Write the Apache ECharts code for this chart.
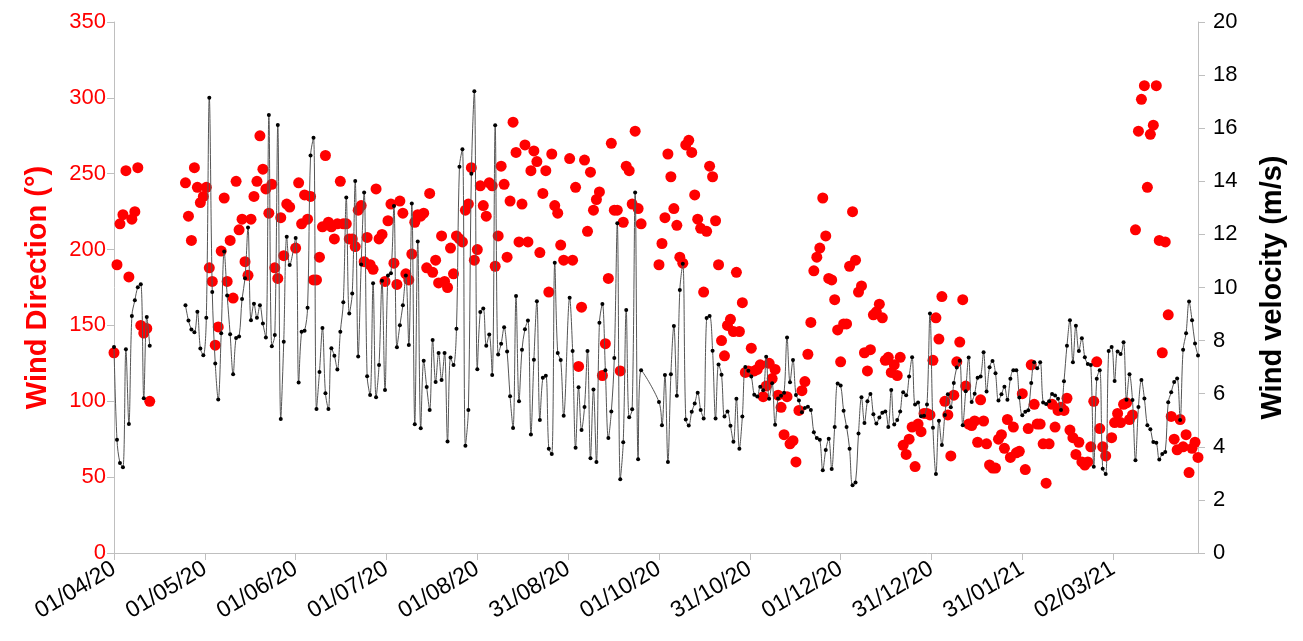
<!DOCTYPE html>
<html><head><meta charset="utf-8">
<script src="https://cdn.jsdelivr.net/npm/echarts@6/dist/echarts.min.js"></script>
<style>html,body{margin:0;padding:0;background:#fff}#chart{width:1303px;height:641px}</style>
</head><body><div id="chart"></div>
<script>
// X tick labels (dates), one every 30.5 days from 01/04/20
const xTickLabels = ['01/04/20','01/05/20','01/06/20','01/07/20','01/08/20','31/08/20',
  '01/10/20','31/10/20','01/12/20','31/12/20','31/01/21','02/03/21'];
const tickStepDays = 30.5;

// Days (counted from 01/04/20) that have observations, as inclusive ranges
const observedRanges = [[0,12],[24,59],[61,151],[153,177],[183,364]];

// Wind direction (deg), one value per observed day
const windDirection = [
  // 0-12
  132,190,217,223,252,182,220,225,254,150,145,148,100,
  // 24-59
  244,222,206,254,241,231,235,241,188,179,
  137,149,199,234,179,206,168,245,213,220,
  192,183,220,235,245,275,253,240,224,243,
  188,181,221,196,230,228,
  // 61-151
  201,244,217,236,220,235,180,180,195,215,
  262,218,215,207,217,245,217,217,207,207,
  202,226,229,192,208,190,187,240,207,210,
  179,219,230,191,177,232,224,184,180,197,
  218,223,222,224,188,237,185,193,178,209,
  179,175,201,184,209,207,205,226,230,254,
  193,200,242,229,222,244,242,189,209,255,
  243,195,232,284,264,205,230,269,205,252,
  265,258,198,237,252,172,263,229,224,203,
  193,
  // 153-177
  260,193,241,123,162,259,212,251,226,233,
  238,117,138,181,270,226,226,120,218,255,
  252,230,278,227,217,
  // 183-364
  190,204,221,263,248,227,216,195,191,269,
  272,264,236,220,214,172,212,255,248,219,
  190,140,130,150,154,146,185,146,165,119,
  120,135,120,121,124,103,110,125,115,121,
  104,96,78,103,72,74,60,94,107,113,
  131,152,186,195,201,234,209,181,180,167,
  147,126,151,151,189,225,193,172,176,132,
  120,134,157,159,164,155,127,129,119,124,
  117,129,71,65,75,83,57,85,80,92,
  92,91,127,155,141,169,100,91,64,104,
  126,139,167,110,85,84,87,73,101,87,
  72,58,56,56,75,78,69,88,63,83,
  66,67,105,55,82,124,98,85,85,72,
  46,72,98,83,94,96,94,102,81,76,
  65,73,60,58,60,70,100,126,82,70,
  64,null,76,86,92,86,98,99,88,91,
  213,278,299,308,241,276,282,308,206,132,
  205,157,90,75,68,88,70,78,53,69,
  73,63
];

// Wind velocity (m/s), one value per observed day
const windVelocity = [
  // 0-12
  7.76,4.27,3.39,3.23,7.67,4.86,8.93,9.52,10.01,10.12,5.83,8.89,7.81,
  // 24-59
  9.33,8.76,8.42,8.31,9.09,7.70,7.45,8.86,17.15,9.83,
  7.14,5.78,8.28,11.36,9.70,8.24,6.73,8.10,8.15,9.57,
  10.35,12.26,8.77,9.39,8.86,9.33,8.64,8.12,16.5,7.79,
  8.21,16.12,5.05,7.96,11.91,10.85,
  // 61-151
  11.86,6.42,8.33,8.37,9.24,14.97,15.64,5.42,6.82,8.47,
  6.02,5.42,7.71,7.43,6.91,8.33,9.44,13.39,9.02,9.77,
  14.01,7.40,10.87,13.58,6.66,5.95,10.16,5.87,7.08,10.25,
  6.14,10.45,10.54,13.07,7.75,8.58,9.33,10.45,7.83,13.16,
  4.85,11.73,4.70,7.24,6.25,5.39,8.02,6.44,7.53,6.52,
  7.53,4.20,7.36,7.08,8.45,14.55,15.21,4.04,5.39,14.28,
  17.39,6.92,9.08,9.21,7.81,8.23,6.70,16.11,7.48,7.88,
  8.50,7.59,5.90,4.71,9.68,5.72,7.66,8.43,8.76,4.46,
  7.28,9.48,5.01,6.60,6.68,3.93,3.73,10.93,7.53,7.27,
  5.17,
  // 153-177
  9.61,7.61,3.96,6.24,4.63,5.50,7.61,3.57,6.16,3.43,
  8.67,9.38,6.88,4.33,5.33,7.34,12.42,2.78,4.17,9.15,
  5.11,5.41,13.58,3.53,6.88,
  // 183-364
  5.69,4.81,6.70,3.43,6.73,8.55,5.92,9.91,10.89,5.03,
  4.80,5.32,5.63,6.04,5.39,5.07,8.85,8.93,7.62,5.07,
  7.10,6.71,5.14,5.33,4.79,4.19,5.81,3.93,5.14,7.01,
  6.86,6.65,5.96,5.89,6.26,6.13,7.39,5.81,6.39,4.83,
  5.82,5.92,6.04,8.12,6.43,7.27,5.95,5.74,5.30,5.46,
  5.51,5.39,4.55,4.33,4.27,3.12,3.88,4.30,3.16,4.75,
  6.38,6.31,5.36,4.75,3.93,2.55,2.66,4.50,5.87,4.90,
  5.72,5.99,5.23,4.88,5.10,5.28,5.33,4.75,6.14,4.84,
  5.01,5.33,6.05,5.94,6.65,7.37,5.59,5.67,5.15,5.17,
  5.59,9.02,4.72,2.98,4.98,4.07,5.20,5.98,5.49,6.40,
  6.99,7.24,4.81,6.09,7.36,5.69,6.00,6.60,6.65,7.56,
  6.08,7.00,7.23,6.77,5.74,5.98,6.26,5.77,6.56,6.88,
  6.88,5.86,5.19,5.32,5.38,6.40,7.18,6.96,7.18,5.67,
  5.61,5.72,5.99,5.93,5.81,5.39,6.47,7.81,8.77,7.18,
  8.56,7.61,8.09,7.37,7.12,7.08,3.25,6.56,6.88,3.17,
  2.98,7.61,7.76,6.48,7.59,7.50,7.94,5.77,6.73,5.76,
  3.49,5.50,6.52,5.82,4.81,4.66,4.18,4.15,3.52,3.73,
  3.80,5.68,6.05,6.44,6.57,5.01,7.66,8.28,9.47,8.77,
  7.89,7.44
];

// Gaps longer than this many days are not bridged by the velocity line
const maxBridgedGap = 7;

const days = [];
observedRanges.forEach(function (r) { for (let d = r[0]; d <= r[1]; d++) days.push(d); });

const dirData = [];
const velData = [];
days.forEach(function (d, i) {
  if (windDirection[i] !== null) dirData.push([d, windDirection[i]]);
  if (i > 0 && d - days[i - 1] > maxBridgedGap) velData.push([(d + days[i - 1]) / 2, null]);
  velData.push([d, windVelocity[i]]);
});

const tickValues = xTickLabels.map(function (_, i) { return i * tickStepDays; });
const FONT = 'Liberation Sans';
const AXIS_GREY = '#BFBFBF';

const chart = echarts.init(document.getElementById('chart'), null, {renderer: 'canvas'});
chart.setOption({
  animation: false,
  backgroundColor: '#ffffff',
  grid: {left: 114, right: 105, top: 22, bottom: 88, containLabel: false},
  xAxis: {
    type: 'value', min: 0, max: days[days.length - 1], interval: tickStepDays,
    axisLine: {show: true, lineStyle: {color: AXIS_GREY, width: 1}},
    axisTick: {show: true, length: 7, lineStyle: {color: AXIS_GREY}, customValues: tickValues},
    axisLabel: {
      customValues: tickValues, rotate: 31, margin: 14, fontSize: 23, color: '#000',
      fontFamily: FONT,
      formatter: function (v) { return xTickLabels[Math.round(v / tickStepDays)] || ''; }
    },
    splitLine: {show: false}
  },
  yAxis: [
    {
      type: 'value', position: 'left', min: 0, max: 350, interval: 50,
      axisLine: {show: true, lineStyle: {color: AXIS_GREY, width: 1}},
      axisTick: {show: true, length: 7, lineStyle: {color: AXIS_GREY}},
      axisLabel: {color: '#FF0000', fontSize: 22, margin: 8, fontFamily: FONT},
      splitLine: {show: false},
      name: 'Wind Direction (°)', nameLocation: 'middle', nameRotate: 90, nameGap: 62,
      nameTextStyle: {color: '#FF0000', fontSize: 29, fontWeight: 'bold', fontFamily: FONT}
    },
    {
      type: 'value', position: 'right', min: 0, max: 20, interval: 2,
      axisLine: {show: true, lineStyle: {color: AXIS_GREY, width: 1}},
      axisTick: {show: true, length: 7, lineStyle: {color: AXIS_GREY}},
      axisLabel: {color: '#000', fontSize: 22, margin: 15, fontFamily: FONT},
      splitLine: {show: false},
      name: 'Wind velocity (m/s)', nameLocation: 'middle', nameRotate: 90, nameGap: 60,
      nameTextStyle: {color: '#000', fontSize: 29, fontWeight: 'bold', fontFamily: FONT}
    }
  ],
  series: [
    {
      name: 'Wind Direction', type: 'scatter', yAxisIndex: 0, data: dirData,
      symbol: 'circle', symbolSize: 11, itemStyle: {color: '#FF0000', opacity: 1}, z: 2
    },
    {
      name: 'Wind velocity', type: 'line', yAxisIndex: 1, data: velData,
      smooth: 0.35, connectNulls: false, symbol: 'circle', symbolSize: 4,
      showSymbol: true, showAllSymbol: true,
      itemStyle: {color: '#000'}, lineStyle: {color: '#555555', width: 1}, z: 3
    }
  ]
});
</script>
</body></html>
